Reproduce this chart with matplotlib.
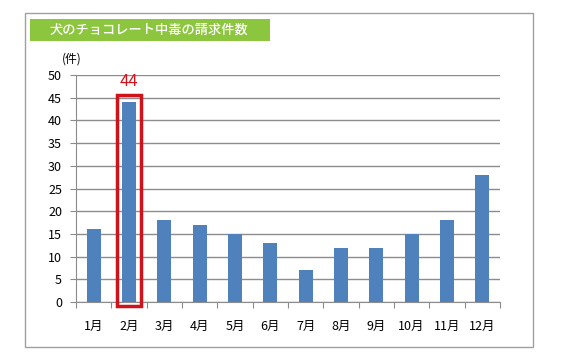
import matplotlib
matplotlib.use("Agg")
import matplotlib.pyplot as plt
from matplotlib.patches import Rectangle
import numpy as np

plt.rcParams['font.family'] = ['Noto Sans CJK JP', 'DejaVu Sans']

months = ["1月", "2月", "3月", "4月", "5月", "6月", "7月", "8月", "9月", "10月", "11月", "12月"]
claims = [16, 44, 18, 17, 15, 13, 7, 12, 12, 15, 18, 28]
title = "犬のチョコレート中毒の請求件数"
unit = "(件)"

bar_color = "#4F81BD"
grid_color = "#8C8C8C"
red = "#D0121B"

fig = plt.figure(figsize=(5.62, 3.57), dpi=100)
W, H = 562, 357

# outer frame
fig.add_artist(Rectangle((25 / W, 1 - 347 / H), (533 - 25) / W, (347 - 13) / H,
                         transform=fig.transFigure, fill=False, edgecolor="#A0A0A0", lw=1))
# title band
fig.add_artist(Rectangle((30 / W, 1 - 41 / H), (270 - 30) / W, (41 - 19) / H,
                         transform=fig.transFigure, facecolor="#8CC63F", edgecolor="none"))
fig.text(50 / W, 1 - 30 / H, title, color="white", fontsize=9.5, va="center", ha="left",
         fontweight="medium")

ax = fig.add_axes([76 / W, 1 - 302 / H, (500 - 76) / W, (302 - 75) / H])
x = np.arange(len(months))
ax.bar(x, claims, width=0.4, color=bar_color, zorder=3)

ax.set_xlim(-0.5, len(months) - 0.5)
ax.set_ylim(0, 50)
ax.set_yticks(range(0, 51, 5))
ax.yaxis.grid(True, color=grid_color, lw=1)
ax.set_axisbelow(True)

ax.set_xticks(np.arange(-0.5, len(months), 1.0))
ax.set_xticklabels([])
ax.set_xticks(x, minor=True)
ax.set_xticklabels(months, minor=True, fontsize=9)
ax.tick_params(axis="x", which="minor", length=0, pad=13)
ax.tick_params(axis="x", which="major", length=4, color=grid_color)
ax.tick_params(axis="y", length=4, color=grid_color, labelsize=9, pad=6)

for side in ["top", "right"]:
    ax.spines[side].set_visible(False)
ax.spines["left"].set_color(grid_color)
ax.spines["bottom"].set_color(grid_color)

ax.text(-0.01, 1.07, unit, transform=ax.transAxes, fontsize=8.5,
        ha="center", va="center")

# highlight the peak month
peak = int(np.argmax(claims))
ax.add_patch(Rectangle((peak - 0.34, -0.9), 0.68, claims[peak] + 2.5,
                       fill=False, edgecolor=red, lw=2.5, zorder=4, clip_on=False))
ax.text(peak, claims[peak] + 4.6, str(claims[peak]), color=red, fontsize=12,
        ha="center", va="center")

fig.savefig("out.png", dpi=100)
